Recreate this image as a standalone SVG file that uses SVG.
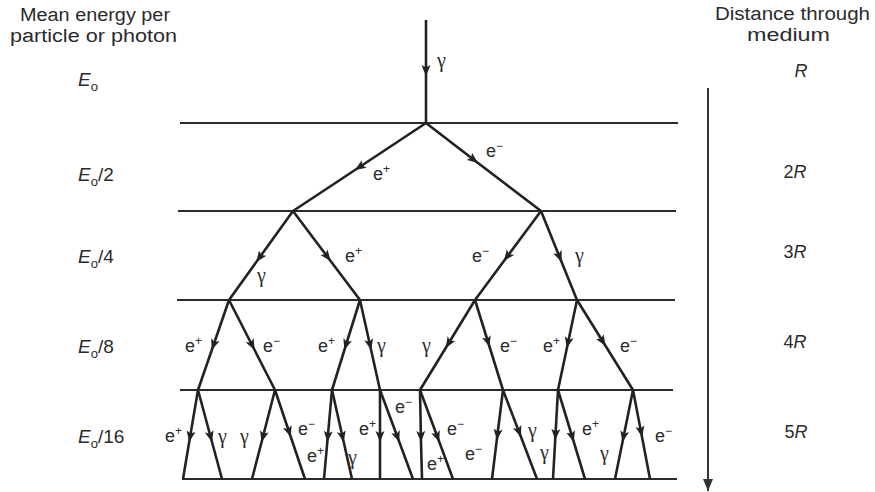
<svg xmlns="http://www.w3.org/2000/svg" width="875" height="492" viewBox="0 0 875 492">
<style>
text{font-family:"Liberation Sans",Arial,sans-serif;fill:#2b2b2b}
.hd{font-size:18px}
.en{font-size:19px}
.it{font-style:italic}
.sub{font-size:13px}
.lb{font-size:18px}
.g{font-family:"Liberation Serif","Times New Roman",serif;font-size:20px}
.sup{font-size:12px}
.lvl{stroke:#2b2b2b;stroke-width:2;fill:none}
.br{stroke:#222;stroke-width:2.6;fill:none;marker-mid:url(#ah)}
.ax{stroke:#333;stroke-width:2;fill:none;marker-end:url(#ahe)}
</style>
<defs>
<marker id="ah" markerUnits="userSpaceOnUse" viewBox="0 0 12 10" markerWidth="12" markerHeight="10" refX="11" refY="5" orient="auto"><path d="M0,0.5 L11,5 L0,9.5 L2.5,5z" fill="#222"/></marker>
<marker id="ahe" markerUnits="userSpaceOnUse" viewBox="0 0 13 10" markerWidth="13" markerHeight="10" refX="12" refY="5" orient="auto"><path d="M0,0 L12,5 L0,10z" fill="#333"/></marker>
</defs>
<rect width="875" height="492" fill="#fff"/>

<g id="header-left">
<text class="hd" x="20" y="21" textLength="150" lengthAdjust="spacingAndGlyphs">Mean energy per</text>
<text class="hd" x="10" y="42" textLength="167" lengthAdjust="spacingAndGlyphs">particle or photon</text>
</g>
<g id="header-right">
<text class="hd" x="715" y="20" textLength="155" lengthAdjust="spacingAndGlyphs">Distance through</text>
<text class="hd" x="747" y="41" textLength="83" lengthAdjust="spacingAndGlyphs">medium</text>
</g>

<g id="energy-labels">
<text class="en" x="78" y="86"><tspan class="it">E</tspan><tspan class="sub" dy="5">o</tspan></text>
<text class="en" x="78" y="181"><tspan class="it">E</tspan><tspan class="sub" dy="5">o</tspan><tspan dy="-5">/2</tspan></text>
<text class="en" x="78" y="263"><tspan class="it">E</tspan><tspan class="sub" dy="5">o</tspan><tspan dy="-5">/4</tspan></text>
<text class="en" x="78" y="353"><tspan class="it">E</tspan><tspan class="sub" dy="5">o</tspan><tspan dy="-5">/8</tspan></text>
<text class="en" x="78" y="443"><tspan class="it">E</tspan><tspan class="sub" dy="5">o</tspan><tspan dy="-5">/16</tspan></text>
</g>

<g id="distance-labels">
<text class="lb" x="801" y="77" text-anchor="middle"><tspan class="it">R</tspan></text>
<text class="lb" x="795" y="178" text-anchor="middle">2<tspan class="it">R</tspan></text>
<text class="lb" x="795" y="258" text-anchor="middle">3<tspan class="it">R</tspan></text>
<text class="lb" x="795" y="348" text-anchor="middle">4<tspan class="it">R</tspan></text>
<text class="lb" x="796" y="438" text-anchor="middle">5<tspan class="it">R</tspan></text>
</g>

<g id="levels">
<line class="lvl" x1="180" y1="123" x2="678" y2="123"/>
<line class="lvl" x1="178" y1="211" x2="676" y2="211"/>
<line class="lvl" x1="177" y1="300" x2="675" y2="300"/>
<line class="lvl" x1="180" y1="390" x2="673" y2="390"/>
<line class="lvl" x1="182" y1="479" x2="677" y2="479"/>
</g>

<g id="distance-axis">
<path class="ax" d="M708,88 L708,491"/>
</g>

<g id="connectors">
<path class="br" d="M426,20 L426,76 L426,123"/>
<path class="br" d="M426,123 L355,170 L293,211"/>
<path class="br" d="M426,123 L478,163 L541,211"/>
<path class="br" d="M293,211 L256.3,262 L229,300"/>
<path class="br" d="M293,211 L330.6,261 L360,300"/>
<path class="br" d="M541,211 L503.9,261 L475,300"/>
<path class="br" d="M541,211 L561.6,262 L577,300"/>
<path class="br" d="M229,300 L211.8,350 L198,390"/>
<path class="br" d="M229,300 L254.6,350 L275,390"/>
<path class="br" d="M360,300 L344.4,350 L332,390"/>
<path class="br" d="M360,300 L371.1,350 L380,390"/>
<path class="br" d="M475,300 L445.7,348 L420,390"/>
<path class="br" d="M475,300 L489.6,347 L503,390"/>
<path class="br" d="M577,300 L566.9,348 L558,390"/>
<path class="br" d="M577,300 L605.6,346 L633,390"/>
<path class="br" d="M198,390 L189.2,442 L183,479"/>
<path class="br" d="M198,390 L212,442 L222,479"/>
<path class="br" d="M275,390 L261.6,442 L252,479"/>
<path class="br" d="M275,390 L290.8,437 L305,479"/>
<path class="br" d="M332,390 L327.3,442 L324,479"/>
<path class="br" d="M332,390 L343.7,442 L352,479"/>
<path class="br" d="M380,390 L380,442 L380,479"/>
<path class="br" d="M380,390 L399.3,442 L413,479"/>
<path class="br" d="M420,390 L421,442 L422,479"/>
<path class="br" d="M420,390 L439.3,442 L453,479"/>
<path class="br" d="M503,390 L496.8,440 L492,479"/>
<path class="br" d="M503,390 L521,437 L537,479"/>
<path class="br" d="M558,390 L555.2,440 L553,479"/>
<path class="br" d="M558,390 L573.8,442 L585,479"/>
<path class="br" d="M633,390 L622.5,442 L615,479"/>
<path class="br" d="M633,390 L642,437 L650,479"/>
</g>

<g id="particle-labels">
<text class="g" x="437" y="67">γ</text>
<text class="lb" x="373" y="180">e<tspan class="sup" dy="-7">+</tspan></text>
<text class="lb" x="486" y="157">e<tspan class="sup" dy="-7">−</tspan></text>
<text class="g" x="257" y="282">γ</text>
<text class="lb" x="345" y="262">e<tspan class="sup" dy="-7">+</tspan></text>
<text class="lb" x="472" y="262">e<tspan class="sup" dy="-7">−</tspan></text>
<text class="g" x="575" y="262">γ</text>
<text class="lb" x="185" y="352">e<tspan class="sup" dy="-7">+</tspan></text>
<text class="lb" x="263" y="352">e<tspan class="sup" dy="-7">−</tspan></text>
<text class="lb" x="318" y="352">e<tspan class="sup" dy="-7">+</tspan></text>
<text class="g" x="377" y="352">γ</text>
<text class="g" x="422" y="352">γ</text>
<text class="lb" x="500" y="352">e<tspan class="sup" dy="-7">−</tspan></text>
<text class="lb" x="543" y="352">e<tspan class="sup" dy="-7">+</tspan></text>
<text class="lb" x="620" y="352">e<tspan class="sup" dy="-7">−</tspan></text>
<text class="lb" x="165" y="442">e<tspan class="sup" dy="-7">+</tspan></text>
<text class="g" x="218" y="443">γ</text>
<text class="g" x="240" y="443">γ</text>
<text class="lb" x="298" y="435">e<tspan class="sup" dy="-7">−</tspan></text>
<text class="lb" x="307" y="462">e<tspan class="sup" dy="-7">+</tspan></text>
<text class="g" x="348" y="464">γ</text>
<text class="lb" x="359" y="435">e<tspan class="sup" dy="-7">+</tspan></text>
<text class="lb" x="395" y="413">e<tspan class="sup" dy="-7">−</tspan></text>
<text class="lb" x="427" y="470">e<tspan class="sup" dy="-7">+</tspan></text>
<text class="lb" x="447" y="435">e<tspan class="sup" dy="-7">−</tspan></text>
<text class="lb" x="465" y="460">e<tspan class="sup" dy="-7">−</tspan></text>
<text class="g" x="528" y="437">γ</text>
<text class="g" x="540" y="459">γ</text>
<text class="lb" x="582" y="435">e<tspan class="sup" dy="-7">+</tspan></text>
<text class="g" x="600" y="460">γ</text>
<text class="lb" x="655" y="442">e<tspan class="sup" dy="-7">−</tspan></text>
</g>
</svg>
